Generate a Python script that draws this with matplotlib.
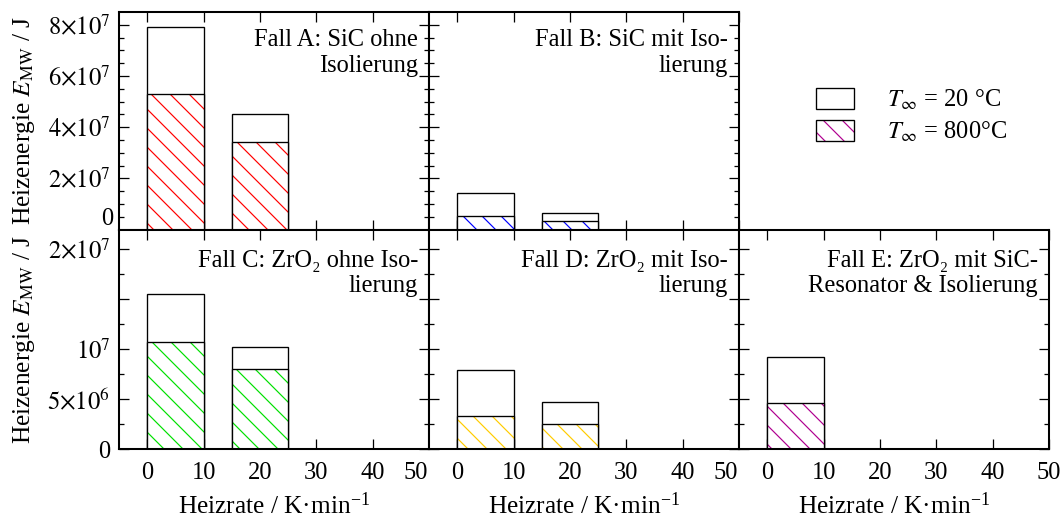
import matplotlib
matplotlib.use("Agg")
import matplotlib.pyplot as plt
from matplotlib.patches import Patch
from matplotlib.ticker import FixedLocator, FuncFormatter
from matplotlib.transforms import ScaledTranslation

# Heating rates (K/min) and heating energy (J) per case
rates = [5, 20]
bar_width = 10

energy_20C = {
    "A": [7.91e7, 4.50e7],
    "B": [1.42e7, 0.66e7],
    "C": [1.552e7, 1.026e7],
    "D": [0.79e7, 0.47e7],
    "E": [0.927e7],
}
energy_800C = {
    "A": [5.28e7, 3.42e7],
    "B": [0.52e7, 0.35e7],
    "C": [1.073e7, 0.799e7],
    "D": [0.335e7, 0.255e7],
    "E": [0.465e7],
}
titles = {
    "A": "Fall A: SiC ohne\nIsolierung",
    "B": "Fall B: SiC mit Iso-\nlierung",
    "C": "Fall C: ZrO₂ ohne Iso-\nlierung",
    "D": "Fall D: ZrO₂ mit Iso-\nlierung",
    "E": "Fall E: ZrO₂ mit SiC-\nResonator & Isolierung",
}
hatch_colors = {"A": "#ff0000", "B": "#0000ff", "C": "#00e000",
                "D": "#ffcc00", "E": "#b0008f"}

x_ticks = [0, 10, 20, 30, 40, 50]
top_major = [0, 2e7, 4e7, 6e7, 8e7]
top_labels = ["", r"$2{\times}10^{7}$", r"$4{\times}10^{7}$",
              r"$6{\times}10^{7}$", r"$8{\times}10^{7}$"]
bottom_major = [0, 5e6, 1e7, 1.5e7, 2e7]
bottom_labels = ["0", r"$5{\times}10^{6}$", r"$10^{7}$", "", r"$2{\times}10^{7}$"]

plt.rcParams["font.family"] = ["Liberation Serif", "DejaVu Serif"]
plt.rcParams["mathtext.fontset"] = "stix"
plt.rcParams["hatch.linewidth"] = 0.75

DPI = 114
W, H = 1062, 518
fig = plt.figure(figsize=(W / DPI, H / DPI), dpi=DPI)

col_x = [119, 429, 739]
col_w = 310
row_y = [(12, 229.5), (229.5, 449)]
FS = 15.5
LFS = 16


def make_axes(col, row):
    x0 = col_x[col]
    top, bot = row_y[row]
    return fig.add_axes([x0 / W, 1 - bot / H, col_w / W, (bot - top) / H])


def draw_case(ax, key, row):
    n = len(energy_20C[key])
    xs = rates[:n]
    ax.bar(xs, energy_20C[key], width=bar_width, facecolor="white",
           edgecolor="black", linewidth=0.85, zorder=2)
    ax.bar(xs, energy_800C[key], width=bar_width, facecolor="white",
           edgecolor=hatch_colors[key], hatch="\\\\", linewidth=0, zorder=3)
    ax.bar(xs, energy_800C[key], width=bar_width, facecolor="none",
           edgecolor="black", linewidth=0.85, zorder=4)
    top, bot = row_y[row]
    drop = 17 if row == 0 else 20
    ax.text(1 - 11 / col_w, 1 - drop / (bot - top), titles[key],
            transform=ax.transAxes, ha="right", va="top",
            multialignment="right", fontsize=FS, linespacing=1.22, zorder=5)


def style_axes(ax, row, col):
    ax.set_xlim(-5, 50)
    ax.xaxis.set_major_locator(FixedLocator(x_ticks))
    for s in ax.spines.values():
        s.set_linewidth(1.3)
        s.set_zorder(6)
    ax.tick_params(which="both", direction="in", top=True, right=True,
                   width=0.8, labelsize=FS)
    ax.tick_params(which="major", length=6.3)
    ax.tick_params(which="minor", length=3.2)
    ax.tick_params(axis="y", pad=5.5)
    ax.tick_params(axis="x", pad=8.5)
    if row == 0:
        ax.set_ylim(0, 8.5e7)
        ax.yaxis.set_major_locator(FixedLocator(top_major))
        minor = [v * 5e6 for v in range(1, 17) if v % 4 != 0]
        ax.yaxis.set_minor_locator(FixedLocator(minor))
        if col == 0:
            ax.set_yticklabels(top_labels)
            ax.yaxis.set_minor_formatter(
                FuncFormatter(lambda v, p: "0" if abs(v - 5e6) < 1 else ""))
        else:
            ax.set_yticklabels([])
        ax.set_xticklabels([])
    else:
        ax.set_ylim(0, 2.2e7)
        ax.yaxis.set_major_locator(FixedLocator(bottom_major))
        ax.yaxis.set_minor_locator(FixedLocator([2.5e6, 7.5e6, 1.25e7, 1.75e7]))
        if col == 0:
            ax.set_yticklabels(bottom_labels)
        else:
            ax.set_yticklabels([])
        ax.set_xticklabels([str(t) for t in x_ticks])
        if col < 2:
            # nudge the last label left so it clears the next panel's "0"
            lab = ax.get_xticklabels()[-1]
            lab.set_transform(lab.get_transform()
                              + ScaledTranslation(-13 / DPI, 0, fig.dpi_scale_trans))


layout = [("A", 0, 0), ("B", 0, 1), ("C", 1, 0), ("D", 1, 1), ("E", 1, 2)]
for key, row, col in layout:
    ax = make_axes(col, row)
    draw_case(ax, key, row)
    style_axes(ax, row, col)

# Shared axis labels
ylabel = r"Heizenergie $E_{\mathrm{MW}}$ / J"
for top, bot in row_y:
    fig.text(24 / W, 1 - (top + bot) / 2 / H, ylabel, rotation=90,
             ha="center", va="center", fontsize=LFS)
for x0 in col_x:
    fig.text((x0 + col_w / 2) / W, 1 - 514 / H,
             "Heizrate / K·min$^{\\mathregular{-1}}$",
             ha="center", va="baseline", fontsize=LFS)

# Legend in the free upper-right area
h20 = Patch(facecolor="white", edgecolor="black", linewidth=0.85)
h800 = (Patch(facecolor="white", edgecolor=hatch_colors["E"], hatch="\\\\",
              linewidth=0),
        Patch(facecolor="none", edgecolor="black", linewidth=0.85))
fig.legend([h20, h800],
           [r"$T_{\infty}$ = 20 °C", r"$T_{\infty}$ = 800°C"],
           loc="upper left", bbox_to_anchor=(816 / W, 1 - 88 / H),
           frameon=False, fontsize=FS, borderpad=0, borderaxespad=0,
           handlelength=1.55, handleheight=0.95, handletextpad=1.35,
           labelspacing=0.3)

fig.savefig("out.png", dpi=DPI)
